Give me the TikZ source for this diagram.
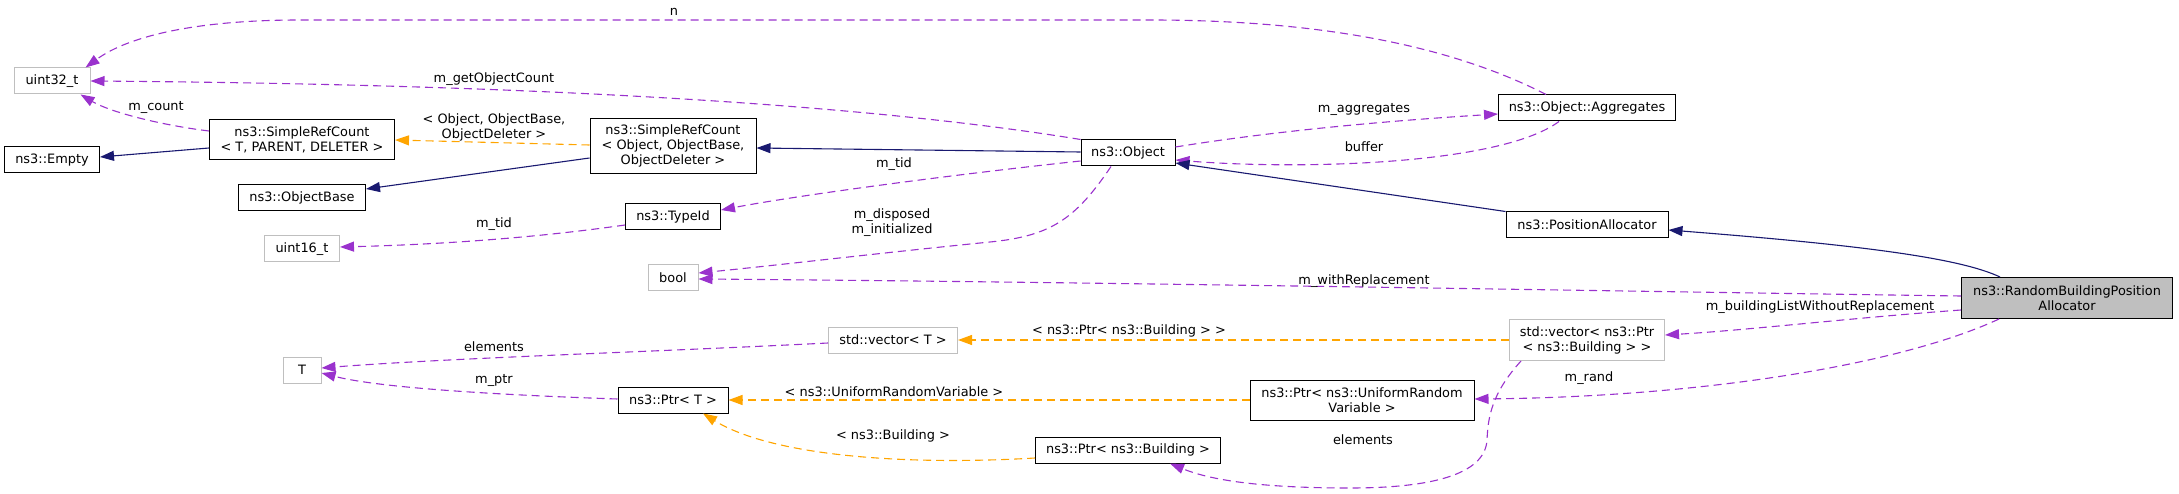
\documentclass[tikz,border=0pt]{standalone}
\usepackage{fontspec}
\setmainfont{DejaVu Sans}
\usepackage{tikz}
\usetikzlibrary{arrows.meta,calc}
\definecolor{usageViolet}{HTML}{9A32CD}
\definecolor{templOrange}{HTML}{FFA500}
\definecolor{inheritNavy}{HTML}{191970}
\definecolor{extGray}{HTML}{BFBFBF}
\definecolor{mainGray}{HTML}{BFBFBF}

\begin{document}
\begin{tikzpicture}[x=1pt,y=-1pt,font=\fontsize{12.9}{15}\selectfont,
  cls/.style={draw=black,fill=white,line width=1pt,minimum height=26pt,inner sep=2pt,align=center},
  ext/.style={cls,draw=extGray},
  usage/.style={draw=usageViolet,line width=1.1pt,dash pattern=on 8pt off 5pt,-{Triangle[length=14pt,width=10pt]}},
  templ/.style={usage,draw=templOrange},
  inherit/.style={draw=inheritNavy,line width=1.1pt,-{Triangle[length=14pt,width=10pt]}},
  lbl/.style={inner sep=1pt,align=center}]
\useasboundingbox (0,0) rectangle (2179,494);
\node[ext,minimum width=76pt] (u32) at (52,81) {uint32\_t};
\node[cls,minimum width=95pt] (empty) at (52,160) {ns3::Empty};
\node[cls,minimum width=185pt,minimum height=40pt] (srcT) at (302,140) {ns3::SimpleRefCount\\< T, PARENT, DELETER >};
\node[cls,minimum width=127pt] (objbase) at (302,198) {ns3::ObjectBase};
\node[ext,minimum width=75pt] (u16) at (302,249) {uint16\_t};
\node[ext,minimum width=38pt] (tT) at (302,370) {T};
\node[cls,minimum width=166pt,minimum height=55pt] (srcO) at (673,146) {ns3::SimpleRefCount\\< Object, ObjectBase,\\ObjectDeleter >};
\node[cls,minimum width=95pt] (typeid) at (673,217) {ns3::TypeId};
\node[ext,minimum width=50pt] (bool) at (673,278) {bool};
\node[cls,minimum width=110pt] (ptrT) at (673,400) {ns3::Ptr< T >};
\node[ext,minimum width=129pt] (vecT) at (893,340) {std::vector< T >};
\node[cls,minimum width=94pt] (object) at (1128,153) {ns3::Object};
\node[cls,minimum width=185pt] (ptrB) at (1128,450) {ns3::Ptr< ns3::Building >};
\node[cls,minimum width=224pt,minimum height=40pt] (ptrU) at (1362,400) {ns3::Ptr< ns3::UniformRandom\\Variable >};
\node[cls,minimum width=177pt] (agg) at (1587,108) {ns3::Object::Aggregates};
\node[cls,minimum width=162pt] (posal) at (1587,225) {ns3::PositionAllocator};
\node[ext,minimum width=155pt,minimum height=41pt] (vecB) at (1587,340) {std::vector< ns3::Ptr\\< ns3::Building > >};
\node[cls,fill=mainGray,minimum width=211pt,minimum height=41pt] (rbpa) at (2067,298) {ns3::RandomBuildingPosition\\Allocator};

\draw[usage] ($(agg.north)+(-41,0)$) .. controls (1440,40) and (1300,20) .. (1150,20) -- (300,20) .. controls (200,20) and (130,35) .. ($(u32.north east)+(-5,0)$);
\draw[usage] (object.north west) .. controls (900,110) and (600,85) .. (u32.east);
\draw[usage] ($(srcT.west)+(0,-9)$) .. controls (160,125) and (110,112) .. ($(u32.south east)+(-10,0)$);
\draw[inherit] ($(srcT.west)+(0,8)$) -- ($(empty.east)+(0,-3)$);
\draw[templ] ($(srcO.west)+(0,-1)$) -- (srcT.east);
\draw[inherit] ($(srcO.west)+(0,12)$) -- ($(objbase.east)+(0,-9)$);
\draw[inherit] ($(object.west)+(0,-1)$) -- ($(srcO.east)+(0,2)$);
\draw[usage] ($(object.west)+(0,8)$) .. controls (950,175) and (800,195) .. ($(typeid.east)+(0,-7)$);
\draw[usage] ($(typeid.west)+(0,8)$) .. controls (520,240) and (420,245) .. ($(u16.east)+(0,-2)$);
\draw[usage] ($(object.south)+(-17,0)$) .. controls (1075,220) and (1050,236) .. (990,242) .. controls (880,253) and (780,265) .. ($(bool.east)+(0,-5)$);
\draw[usage] ($(object.east)+(0,-6)$) .. controls (1280,130) and (1400,120) .. ($(agg.west)+(0,6)$);
\draw[usage] ($(agg.south)+(-28,0)$) .. controls (1500,165) and (1300,170) .. ($(object.east)+(0,7)$);
\draw[inherit] (posal.north west) -- ($(object.east)+(0,10)$);
\draw[inherit] ($(rbpa.north west)+(39,0)$) .. controls (1960,258) and (1860,245) .. ($(posal.east)+(0,5)$);
\draw[usage] ($(rbpa.west)+(0,-2)$) .. controls (1600,291) and (1100,282) .. ($(bool.east)+(0,1)$);
\draw[usage] ($(rbpa.west)+(0,12)$) .. controls (1850,318) and (1750,330) .. ($(vecB.east)+(0,-5)$);
\draw[usage] ($(rbpa.south west)+(38,0)$) .. controls (1900,365) and (1700,397) .. ($(ptrU.east)+(0,-1)$);
\draw[templ] (vecB.west) -- (vecT.east);
\draw[usage] ($(vecT.west)+(0,3)$) .. controls (650,352) and (450,358) .. ($(tT.east)+(0,-2)$);
\draw[usage] ($(ptrT.west)+(0,-1)$) .. controls (500,395) and (380,388) .. ($(tT.east)+(0,3)$);
\draw[templ] (ptrU.west) -- (ptrT.east);
\draw[templ] ($(ptrB.west)+(0,8)$) .. controls (900,466) and (770,455) .. ($(ptrT.south)+(30,0)$);
\draw[usage] ($(vecB.south west)+(12,0)$) .. controls (1490,395) and (1488,420) .. (1487,440) .. controls (1485,475) and (1430,488) .. (1350,488) .. controls (1260,488) and (1210,480) .. ($(ptrB.south)+(42,0)$);

\node[lbl] (lN) at (674,12) {n};
\node[lbl] (lGet) at (494,79) {m\_getObjectCount};
\node[lbl] (lCount) at (156,107) {m\_count};
\node[lbl] (lSrc) at (494,127) {< Object, ObjectBase,\\ObjectDeleter >};
\node[lbl] (lTid) at (894,164) {m\_tid};
\node[lbl] (lTid2) at (494,224) {m\_tid};
\node[lbl] (lDisp) at (892,223) {m\_disposed\\m\_initialized};
\node[lbl] (lAgg) at (1364,109) {m\_aggregates};
\node[lbl] (lBuf) at (1364,147) {buffer};
\node[lbl] (lWith) at (1364,281) {m\_withReplacement};
\node[lbl] (lList) at (1820,307) {m\_buildingListWithoutReplacement};
\node[lbl] (lRand) at (1589,378) {m\_rand};
\node[lbl] (lVecB) at (1129,331) {< ns3::Ptr< ns3::Building > >};
\node[lbl] (lElem) at (494,347) {elements};
\node[lbl] (lPtr) at (494,380) {m\_ptr};
\node[lbl] (lUni) at (894,392) {< ns3::UniformRandomVariable >};
\node[lbl] (lBld) at (893,436) {< ns3::Building >};
\node[lbl] (lElem2) at (1363,440) {elements};
\end{tikzpicture}
\end{document}
